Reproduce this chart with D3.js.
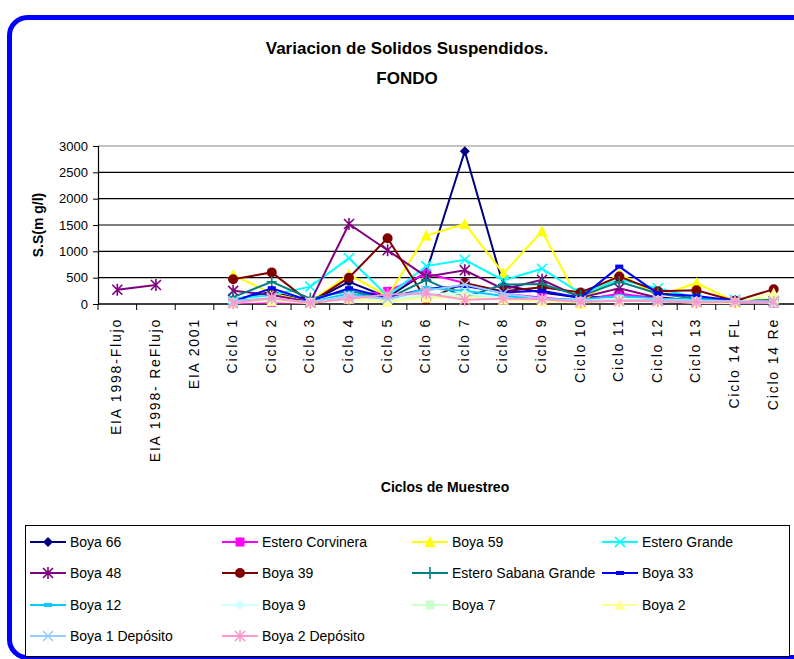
<!DOCTYPE html>
<html>
<head>
<meta charset="utf-8">
<script src="https://cdn.jsdelivr.net/npm/d3@7"></script>
<style>
  body { margin: 0; background: #fff; }
  text { font-family: "Liberation Sans", Arial, sans-serif; }
</style>
</head>
<body>
<svg id="chart" width="794" height="659"></svg>
<script>
// categories on the x axis
var categories = ["EIA 1998-Flujo", "EIA 1998- ReFlujo", "EIA 2001", "Ciclo 1", "Ciclo 2", "Ciclo 3",
  "Ciclo 4", "Ciclo 5", "Ciclo 6", "Ciclo 7", "Ciclo 8", "Ciclo 9", "Ciclo 10", "Ciclo 11",
  "Ciclo 12", "Ciclo 13", "Ciclo 14 FL", "Ciclo 14 Re"];
var yTicks = [0, 500, 1000, 1500, 2000, 2500, 3000];

// series values (mg/l); null = no sample
var boya66 = [null, null, null, 80, 230, 40, 420, 130, 600, 2900, 350, 220, 120, 150, 130, 60, 40, 30];
var esteroCorvinera = [null, null, null, 20, 30, 20, 140, 240, 580, 400, 200, 120, 60, 200, 100, 40, 30, 20];
var boya59 = [null, null, null, 550, 200, 40, 560, 150, 1300, 1520, 580, 1380, 10, 580, 150, 400, 40, 100];
var esteroGrande = [null, null, null, 100, 170, 330, 870, 150, 720, 840, 450, 670, 200, 460, 300, 120, 80, 60];
var boya48 = [270, 360, null, 250, 170, 40, 1520, 1020, 520, 640, 280, 460, 120, 300, 120, 50, 40, 50];
var boya39 = [null, null, null, 470, 600, 30, 500, 1250, 80, 400, 240, 320, 220, 520, 240, 260, 60, 280];
var esteroSabana = [null, null, null, 130, 420, 100, 250, 100, 460, 130, 370, 380, 150, 420, 200, 100, 50, 80];
var boya33 = [null, null, null, 50, 300, 60, 300, 120, 290, 340, 220, 250, 120, 710, 200, 150, 60, 40];
var boya12 = [null, null, null, 60, 100, 40, 200, 80, 300, 250, 150, 100, 80, 150, 100, 80, 50, 40];
var boya9 = [null, null, null, 40, 80, 30, 150, 60, 200, 200, 100, 80, 60, 100, 80, 60, 40, 30];
var boya7 = [null, null, null, 30, 60, 30, 100, 60, 150, 150, 100, 60, 40, 80, 60, 40, 30, 30];
var boya2 = [null, null, null, 30, 50, 20, 100, 40, 120, 120, 80, 50, 30, 60, 60, 20, 20, 200];
var boya1Dep = [null, null, null, 50, 100, 30, 150, 100, 250, 370, 200, 100, 60, 60, 80, 50, 50, 50];
var boya2Dep = [null, null, null, 10, 120, 20, 100, 180, 200, 80, 100, 90, 40, 60, 50, 30, 40, 40];

var series = [
  {name: "Boya 66", values: boya66, color: "#000080", marker: "diamond"},
  {name: "Estero Corvinera", values: esteroCorvinera, color: "#FF00FF", marker: "square"},
  {name: "Boya 59", values: boya59, color: "#FFFF00", marker: "triangle"},
  {name: "Estero Grande", values: esteroGrande, color: "#00FFFF", marker: "x"},
  {name: "Boya 48", values: boya48, color: "#800080", marker: "star"},
  {name: "Boya 39", values: boya39, color: "#800000", marker: "circle"},
  {name: "Estero Sabana Grande", values: esteroSabana, color: "#008080", marker: "plus"},
  {name: "Boya 33", values: boya33, color: "#0000FF", marker: "dash"},
  {name: "Boya 12", values: boya12, color: "#00CCFF", marker: "dash"},
  {name: "Boya 9", values: boya9, color: "#CCFFFF", marker: "diamond"},
  {name: "Boya 7", values: boya7, color: "#CCFFCC", marker: "square"},
  {name: "Boya 2", values: boya2, color: "#FFFF99", marker: "triangle"},
  {name: "Boya 1 Depósito", values: boya1Dep, color: "#99CCFF", marker: "x"},
  {name: "Boya 2 Depósito", values: boya2Dep, color: "#FF99CC", marker: "star"}
];

var svg = d3.select("#chart");

// blue rounded frame, runs off the right and bottom edges
svg.append("rect")
  .attr("x", 9.5).attr("y", 17.5)
  .attr("width", 830).attr("height", 640)
  .attr("rx", 18)
  .attr("fill", "none")
  .attr("stroke", "#0000FF")
  .attr("stroke-width", 5);

var x = d3.scaleBand().domain(categories).range([98, 793]).padding(0);
var y = d3.scaleLinear().domain([0, 3000]).range([304, 146]);

// gridlines
svg.append("g").selectAll("line")
  .data(yTicks.slice(1))
  .enter().append("line")
  .attr("x1", 98).attr("x2", 794)
  .attr("y1", function(d) { return y(d); })
  .attr("y2", function(d) { return y(d); })
  .attr("stroke", function(d) { return d == 3000 ? "#888" : "#000"; })
  .attr("stroke-width", 1.2);

// y axis
var yAxis = svg.append("g")
  .attr("transform", "translate(98,0)")
  .call(d3.axisLeft(y).tickValues(yTicks).tickFormat(d3.format("d")).tickSize(5).tickPadding(5));
yAxis.select(".domain").attr("stroke", "#000").attr("stroke-width", 1.2);
yAxis.selectAll("text").style("font-size", "13px").attr("fill", "#000");

// x axis, ticks between categories
svg.append("line")
  .attr("x1", 98).attr("x2", 794).attr("y1", 304).attr("y2", 304)
  .attr("stroke", "#000").attr("stroke-width", 1.5);
svg.append("g").selectAll("line")
  .data(categories)
  .enter().append("line")
  .attr("x1", function(d) { return x(d); })
  .attr("x2", function(d) { return x(d); })
  .attr("y1", 304).attr("y2", 310)
  .attr("stroke", "#000");

svg.append("g").selectAll("text")
  .data(categories)
  .enter().append("text")
  .attr("transform", function(d) {
    return "translate(" + (x(d) + x.bandwidth() / 2 + 4) + ",318) rotate(-90)";
  })
  .attr("text-anchor", "end")
  .style("font-size", "14px")
  .style("letter-spacing", "1.8px")
  .text(function(d) { return d; });

// titles
svg.append("text").attr("x", 407).attr("y", 54).attr("text-anchor", "middle")
  .style("font-size", "17px").style("font-weight", "bold")
  .text("Variacion de Solidos Suspendidos.");
svg.append("text").attr("x", 407).attr("y", 84).attr("text-anchor", "middle")
  .style("font-size", "17px").style("font-weight", "bold")
  .text("FONDO");
svg.append("text").attr("x", 445).attr("y", 492).attr("text-anchor", "middle")
  .style("font-size", "14px").style("font-weight", "bold")
  .text("Ciclos de Muestreo");
svg.append("text")
  .attr("transform", "translate(43,225) rotate(-90)")
  .attr("text-anchor", "middle")
  .style("font-size", "14px").style("font-weight", "bold")
  .text("S.S(m g/l)");

// marker shapes
function drawMarker(g, type, color, cx, cy) {
  if (type == "diamond") {
    g.append("path").attr("d", "M" + cx + "," + (cy - 5) + "L" + (cx + 5) + "," + cy + "L" + cx + "," + (cy + 5) + "L" + (cx - 5) + "," + cy + "Z")
      .attr("fill", color);
  } else if (type == "square") {
    g.append("rect").attr("x", cx - 4.5).attr("y", cy - 4.5).attr("width", 9).attr("height", 9).attr("fill", color);
  } else if (type == "triangle") {
    g.append("path").attr("d", "M" + cx + "," + (cy - 6) + "L" + (cx + 5.5) + "," + (cy + 5) + "L" + (cx - 5.5) + "," + (cy + 5) + "Z")
      .attr("fill", color);
  } else if (type == "circle") {
    g.append("circle").attr("cx", cx).attr("cy", cy).attr("r", 5).attr("fill", color);
  } else if (type == "dash") {
    g.append("rect").attr("x", cx - 4).attr("y", cy - 2).attr("width", 8).attr("height", 4).attr("fill", color);
  } else {
    var p = "";
    if (type == "x" || type == "star") {
      p += "M" + (cx - 5) + "," + (cy - 5) + "L" + (cx + 5) + "," + (cy + 5);
      p += "M" + (cx - 5) + "," + (cy + 5) + "L" + (cx + 5) + "," + (cy - 5);
    }
    if (type == "star") p += "M" + cx + "," + (cy - 6) + "L" + cx + "," + (cy + 6);
    if (type == "plus") p += "M" + (cx - 5) + "," + cy + "L" + (cx + 5) + "," + cy + "M" + cx + "," + (cy - 6) + "L" + cx + "," + (cy + 6);
    g.append("path").attr("d", p).attr("stroke", color).attr("stroke-width", 1.6).attr("fill", "none");
  }
}

var line = d3.line()
  .defined(function(d) { return d != null; })
  .x(function(d, i) { return x(categories[i]) + x.bandwidth() / 2; })
  .y(function(d) { return y(d); });

series.forEach(function(s) {
  var g = svg.append("g");
  g.append("path")
    .attr("d", line(s.values))
    .attr("fill", "none")
    .attr("stroke", s.color)
    .attr("stroke-width", 2);
  s.values.forEach(function(v, i) {
    if (v == null) return;
    drawMarker(g, s.marker, s.color, x(categories[i]) + x.bandwidth() / 2, y(v));
  });
});

// legend
svg.append("rect")
  .attr("x", 25.5).attr("y", 525.5).attr("width", 764).attr("height", 131)
  .attr("fill", "#fff").attr("stroke", "#000").attr("stroke-width", 1);
var colX = [30, 222, 412, 602];
var rowY = [542, 573, 605, 636];
series.forEach(function(s, i) {
  var lx = colX[i % 4], ly = rowY[Math.floor(i / 4)];
  var g = svg.append("g");
  g.append("line").attr("x1", lx).attr("x2", lx + 36).attr("y1", ly).attr("y2", ly)
    .attr("stroke", s.color).attr("stroke-width", 2);
  drawMarker(g, s.marker, s.color, lx + 18, ly);
  g.append("text").attr("x", lx + 40).attr("y", ly + 5)
    .style("font-size", "14px")
    .text(s.name);
});
</script>
</body>
</html>
